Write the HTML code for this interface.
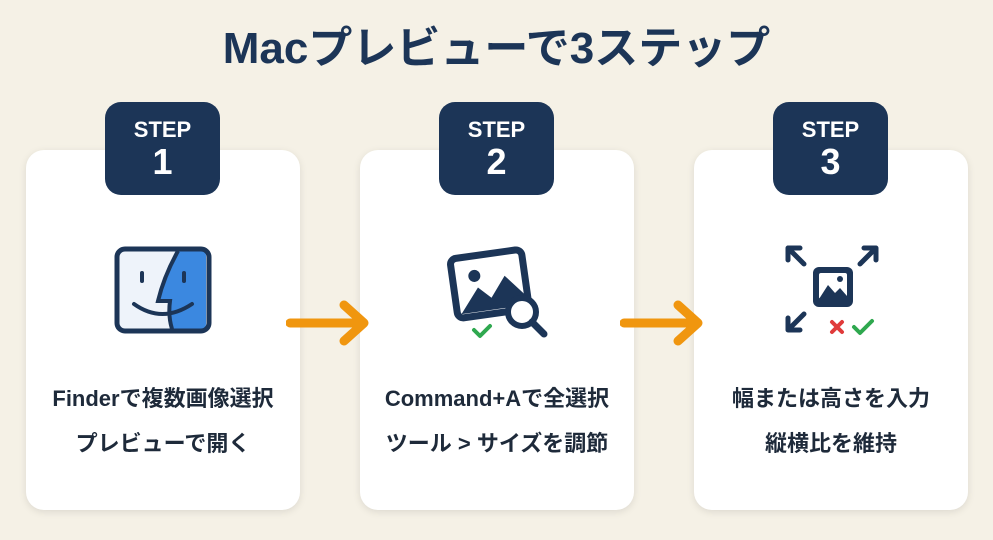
<!DOCTYPE html>
<html><head><meta charset="utf-8"><style>
body{margin:0;width:993px;height:540px;background:#f5f1e6;font-family:"Liberation Sans","Noto Sans CJK JP",sans-serif;position:relative;overflow:hidden;color:#1e2a3a}
.title{position:absolute;top:12px;left:0;width:993px;text-align:center;font-size:44px;font-weight:bold;color:#1c3557}
.card{position:absolute;top:150px;width:274px;height:360px;background:#fff;border-radius:18px;box-shadow:0 2px 8px rgba(0,0,0,0.10)}
.badge{position:absolute;top:102px;width:115px;height:93px;background:#1c3557;border-radius:16px;color:#fff;text-align:center;font-weight:bold}
.badge .s{font-size:22px;margin-top:16px;line-height:24px}
.badge .n{font-size:36px;line-height:40px}
.t{position:absolute;width:274px;text-align:center;font-size:22px;font-weight:bold;color:#1e2a3a}
svg{position:absolute}
</style></head><body>
<div class="title">Macプレビューで3ステップ</div>

<div class="card" style="left:26px"></div>
<div class="card" style="left:360px"></div>
<div class="card" style="left:694px"></div>

<div class="badge" style="left:105px"><div class="s">STEP</div><div class="n">1</div></div>
<div class="badge" style="left:439px"><div class="s">STEP</div><div class="n">2</div></div>
<div class="badge" style="left:773px"><div class="s">STEP</div><div class="n">3</div></div>

<!-- finder icon -->
<svg style="left:114px;top:246px" width="98" height="88" viewBox="0 0 98 88">
<rect x="3" y="3" width="92" height="82" rx="8" fill="#eef3fa"/>
<path d="M64 5 L87 5 Q92 5 92 10 L92 78 Q92 83 87 83 L58 83 Q54 70 56 55 L44 55 Q50 30 64 5Z" fill="#3b88e0"/>
<path d="M64 5 Q50 30 44 55 L56 55 Q54 70 58 83" fill="none" stroke="#1c3557" stroke-width="4"/>
<rect x="3" y="3" width="92" height="82" rx="8" fill="none" stroke="#1c3557" stroke-width="5"/>
<line x1="28" y1="27" x2="28" y2="35" stroke="#1c3557" stroke-width="4" stroke-linecap="round"/>
<line x1="70" y1="27" x2="70" y2="35" stroke="#1c3557" stroke-width="4" stroke-linecap="round"/>
<path d="M20 58 Q48 78 78 58" fill="none" stroke="#1c3557" stroke-width="4" stroke-linecap="round"/>
</svg>

<!-- preview icon -->
<svg style="left:444px;top:242px" width="110" height="100" viewBox="0 0 110 100">
<g transform="rotate(-8 45 45)">
<rect x="10" y="12" width="72" height="60" rx="6" fill="none" stroke="#1c3557" stroke-width="7"/>
<circle cx="32" cy="32" r="6" fill="#1c3557"/>
<path d="M14 68 L34 44 L46 56 L62 36 L80 58 L80 68Z" fill="#1c3557"/>
</g>
<circle cx="78" cy="70" r="14" fill="#fff" stroke="#1c3557" stroke-width="6"/>
<line x1="88" y1="80" x2="100" y2="92" stroke="#1c3557" stroke-width="7" stroke-linecap="round"/>
<path d="M30 88 L36 94 L46 84" fill="none" stroke="#2fa84f" stroke-width="4" stroke-linecap="round" stroke-linejoin="round"/>
</svg>

<!-- resize icon -->
<svg style="left:780px;top:240px" width="105" height="100" viewBox="0 0 105 100">
<g stroke="#1c3557" stroke-width="5" fill="none" stroke-linecap="round" stroke-linejoin="round">
<path d="M8 8 L24 24 M8 8 L8 20 M8 8 L20 8"/>
<path d="M96 8 L80 24 M96 8 L96 20 M96 8 L84 8"/>
<path d="M8 90 L24 74 M8 90 L8 78 M8 90 L20 90"/>
</g>
<rect x="33" y="27" width="40" height="40" rx="6" fill="#1c3557"/>
<rect x="39" y="33" width="28" height="26" rx="2" fill="#fff"/>
<path d="M39 59 L48 45 L55 53 L60 48 L67 56 L67 59Z" fill="#1c3557"/>
<circle cx="60" cy="39" r="3" fill="#1c3557"/>
<path d="M52 82 L62 92 M62 82 L52 92" stroke="#e03a3a" stroke-width="4" stroke-linecap="round"/>
<path d="M74 87 L80 93 L92 81" fill="none" stroke="#2fa84f" stroke-width="4" stroke-linecap="round" stroke-linejoin="round"/>
</svg>

<!-- arrows -->
<svg style="left:286px;top:298px" width="86" height="50" viewBox="0 0 86 50">
<path d="M4 25 L76 25 M58 7 L78 25 L58 43" fill="none" stroke="#f0960f" stroke-width="9" stroke-linecap="round" stroke-linejoin="round"/>
</svg>
<svg style="left:620px;top:298px" width="86" height="50" viewBox="0 0 86 50">
<path d="M4 25 L76 25 M58 7 L78 25 L58 43" fill="none" stroke="#f0960f" stroke-width="9" stroke-linecap="round" stroke-linejoin="round"/>
</svg>

<div class="t" style="left:26px;top:381px">Finderで複数画像選択</div>
<div class="t" style="left:26px;top:426px">プレビューで開く</div>
<div class="t" style="left:360px;top:381px">Command+Aで全選択</div>
<div class="t" style="left:360px;top:426px">ツール &gt; サイズを調節</div>
<div class="t" style="left:694px;top:381px">幅または高さを入力</div>
<div class="t" style="left:694px;top:426px">縦横比を維持</div>
</body></html>
